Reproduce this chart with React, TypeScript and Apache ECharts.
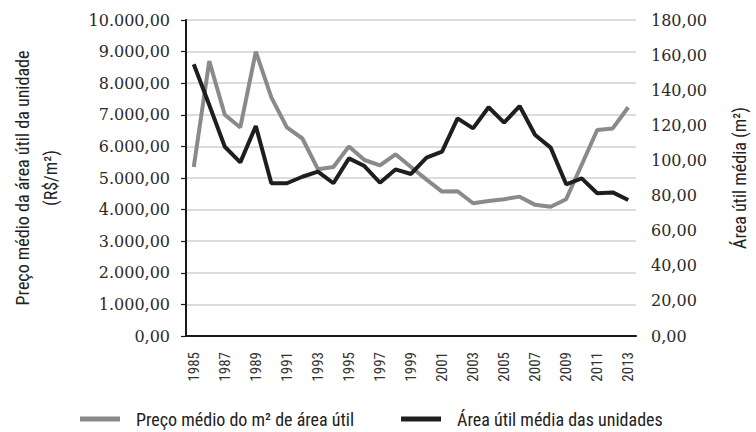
import React, { useEffect, useRef } from "react";
import * as echarts from "echarts";

const years = [
  "1985", "1986", "1987", "1988", "1989", "1990", "1991", "1992", "1993", "1994",
  "1995", "1996", "1997", "1998", "1999", "2000", "2001", "2002", "2003", "2004",
  "2005", "2006", "2007", "2008", "2009", "2010", "2011", "2012", "2013",
];

const precoM2 = [
  5350, 8700, 7000, 6600, 9000, 7550, 6600, 6250, 5280, 5350,
  6000, 5570, 5400, 5750, 5350, 4950, 4570, 4580, 4200, 4270,
  4330, 4410, 4150, 4090, 4330, 5420, 6520, 6570, 7240,
];

const areaUtil = [
  154.8, 131.6, 107.8, 98.9, 119.6, 87.0, 87.0, 90.7, 93.6, 87.0,
  101.2, 96.8, 87.3, 94.9, 92.3, 101.6, 105.0, 124.0, 118.3, 130.3,
  121.5, 131.0, 114.5, 107.3, 86.4, 89.8, 81.3, 81.8, 77.5,
];

const seriesNames = ["Preço médio do m² de área útil", "Área útil média das unidades"];
const leftAxisName = "Preço médio da área útil da unidade\n(R$/m²)";
const rightAxisName = "Área útil média (m²)";

const fmt = (v: number) =>
  v.toLocaleString("de-DE", { minimumFractionDigits: 2, maximumFractionDigits: 2 });

const SANS = "'Roboto Condensed', 'Liberation Sans', sans-serif";
const SERIF = "'DejaVu Serif', 'Liberation Serif', serif";

export default function App() {
  const ref = useRef<HTMLDivElement>(null);
  useEffect(() => {
    if (!ref.current) return;
    const chart = echarts.init(ref.current, undefined, { renderer: "svg" });
    chart.setOption({
      animation: false,
      backgroundColor: "#ffffff",
      grid: { left: 175, right: 119, top: 20, height: 316, containLabel: false },
      legend: {
        left: 80,
        top: 410,
        padding: 0,
        icon: "rect",
        itemWidth: 40,
        itemHeight: 5,
        itemGap: 47,
        formatter: (n: string) => `{t|${n}}`,
        textStyle: {
          fontFamily: SANS,
          fontSize: 18,
          color: "#222",
          rich: {
            t: { fontFamily: SANS, fontSize: 18, color: "#222", padding: [0, 0, 0, 11], lineHeight: 20 },
          },
        },
        data: seriesNames,
      },
      xAxis: {
        type: "category",
        data: years,
        boundaryGap: true,
        axisLine: { lineStyle: { color: "#1a1a1a", width: 2 } },
        axisTick: { show: false },
        axisLabel: {
          interval: 1,
          rotate: 90,
          margin: 16,
          fontFamily: SANS,
          fontSize: 15,
          color: "#333",
        },
        splitLine: { show: false },
      },
      yAxis: [
        {
          type: "value",
          min: 0,
          max: 10000,
          interval: 1000,
          name: leftAxisName,
          nameLocation: "middle",
          nameRotate: 90,
          nameGap: 122,
          nameTextStyle: { fontFamily: SANS, fontSize: 18, color: "#222", lineHeight: 28 },
          axisLine: { show: true, lineStyle: { color: "#1a1a1a", width: 2 } },
          axisTick: { show: true, length: 5, lineStyle: { color: "#1a1a1a", width: 1.2 } },
          axisLabel: {
            formatter: (v: number) => fmt(v),
            fontFamily: SERIF,
            fontSize: 16,
            color: "#2a2a2a",
            margin: 16,
          },
          splitLine: { show: true, lineStyle: { color: "#d0d0d0", width: 1.5 } },
        },
        {
          type: "value",
          min: 0,
          max: 180,
          interval: 20,
          name: rightAxisName,
          nameLocation: "middle",
          nameRotate: 90,
          nameGap: 94,
          nameTextStyle: { fontFamily: SANS, fontSize: 18, color: "#222" },
          axisLine: { show: false },
          axisTick: { show: false },
          axisLabel: {
            formatter: (v: number) => fmt(v),
            fontFamily: SERIF,
            fontSize: 16,
            color: "#2a2a2a",
            margin: 15,
          },
          splitLine: { show: false },
        },
      ],
      series: [
        {
          name: seriesNames[0],
          type: "line",
          yAxisIndex: 0,
          data: precoM2,
          symbol: "none",
          lineStyle: { color: "#8a8a8a", width: 4 },
          itemStyle: { color: "#8a8a8a" },
        },
        {
          name: seriesNames[1],
          type: "line",
          yAxisIndex: 1,
          data: areaUtil,
          symbol: "none",
          lineStyle: { color: "#1e1e1e", width: 4 },
          itemStyle: { color: "#1e1e1e" },
        },
      ],
    });
    return () => chart.dispose();
  }, []);
  return (
    <div
      ref={ref}
      style={{ position: "fixed", left: 0, top: 0, width: 756, height: 432 }}
    />
  );
}
